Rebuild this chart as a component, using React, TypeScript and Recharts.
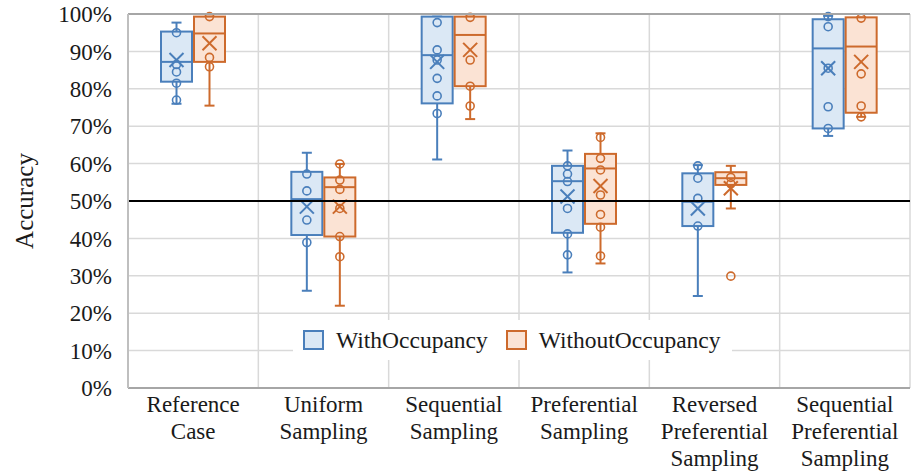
import React from 'react';
import { BarChart, Bar, XAxis, YAxis, CartesianGrid, ReferenceLine, Legend } from 'recharts';

const categories = [
  'Reference\nCase',
  'Uniform\nSampling',
  'Sequential\nSampling',
  'Preferential\nSampling',
  'Reversed\nPreferential\nSampling',
  'Sequential\nPreferential\nSampling',
];

const yTicks = [0, 10, 20, 30, 40, 50, 60, 70, 80, 90, 100];

// WithOccupancy
const withLow = [76, 26, 61.1, 30.9, 24.6, 67.4];
const withQ1 = [81.9, 40.9, 76.1, 41.5, 43.3, 69.4];
const withMedian = [87.2, 50.5, 89, 55.3, 49.8, 90.8];
const withQ3 = [95.3, 57.8, 99.3, 59.4, 57.4, 98.6];
const withHigh = [97.7, 62.9, 99.3, 63.5, 59.6, 99.5];
const withMean = [87.7, 48.5, 87.2, 51.2, 48.0, 85.5];
const withPoints = [
  [95, 86.5, 84.5, 81.5, 77],
  [57.2, 52.7, 44.9, 38.9],
  [97.7, 90.4, 87.7, 82.8, 78.1, 73.4],
  [59.4, 57.2, 55.2, 48, 41.2, 35.6],
  [59.4, 56.1, 50.7, 43.3],
  [99.3, 96.6, 85.5, 75.2, 69.4],
];

// WithoutOccupancy
const withoutLow = [75.5, 22, 71.9, 33.3, 48, 72.5];
const withoutQ1 = [87.2, 40.5, 80.7, 43.9, 54.3, 73.6];
const withoutMedian = [94.8, 53.7, 94.4, 58.7, 56.1, 91.3];
const withoutQ3 = [99.3, 56.3, 99.3, 62.6, 57.7, 99.1];
const withoutHigh = [99.3, 59.9, 99.3, 68.1, 59.4, 99.1];
const withoutMean = [92.2, 48.5, 90.4, 54.0, 53.4, 87.2];
const withoutPoints = [
  [99.3, 88.4, 85.9],
  [59.9, 55.6, 53.1, 48, 40.5, 35.1],
  [99.1, 87.7, 80.7, 75.4],
  [67, 61.4, 58.3, 51.6, 46.4, 43, 35.3],
  [56.3, 54.6, 29.9],
  [98.9, 84, 75.4, 72.5],
];

const seriesNames = ['WithOccupancy', 'WithoutOccupancy'];

const STYLES: Record<string, { stroke: string; fill: string }> = {
  w: { stroke: '#4a7fbb', fill: '#dbe8f5' },
  wo: { stroke: '#cd6a2c', fill: '#fbe3d4' },
};

const FONT = "'Liberation Serif', 'DejaVu Serif', serif";
const TEXT = '#1a1a1a';

const rows = categories.map((name, i) => ({
  name,
  w: {
    low: withLow[i], q1: withQ1[i], med: withMedian[i], q3: withQ3[i],
    high: withHigh[i], mean: withMean[i], pts: withPoints[i],
  },
  wo: {
    low: withoutLow[i], q1: withoutQ1[i], med: withoutMedian[i], q3: withoutQ3[i],
    high: withoutHigh[i], mean: withoutMean[i], pts: withoutPoints[i],
  },
}));

const BoxShape = (props: any) => {
  const { x, y, width, height, payload, series } = props;
  const d = payload[series];
  const st = STYLES[series];
  const top = Math.min(y, y + height);
  const bot = Math.max(y, y + height);
  const k = (bot - top) / (d.high - d.low);
  const py = (v: number) => bot - (v - d.low) * k;
  const cx = x + width / 2;
  const cap = 5;
  const m = 7;
  const yMean = py(d.mean);
  return (
    <g>
      <line x1={cx} x2={cx} y1={py(d.low)} y2={py(d.q1)} stroke={st.stroke} strokeWidth={2} />
      <line x1={cx} x2={cx} y1={py(d.q3)} y2={py(d.high)} stroke={st.stroke} strokeWidth={2} />
      <line x1={cx - cap} x2={cx + cap} y1={py(d.low)} y2={py(d.low)} stroke={st.stroke} strokeWidth={2} />
      <line x1={cx - cap} x2={cx + cap} y1={py(d.high)} y2={py(d.high)} stroke={st.stroke} strokeWidth={2} />
      <rect x={x} y={py(d.q3)} width={width} height={py(d.q1) - py(d.q3)} fill={st.fill} stroke={st.stroke} strokeWidth={2} />
      <line x1={x} x2={x + width} y1={py(d.med)} y2={py(d.med)} stroke={st.stroke} strokeWidth={2} />
      <line x1={cx - m} x2={cx + m} y1={yMean - m} y2={yMean + m} stroke={st.stroke} strokeWidth={2} />
      <line x1={cx - m} x2={cx + m} y1={yMean + m} y2={yMean - m} stroke={st.stroke} strokeWidth={2} />
      {d.pts.map((v: number, i: number) => (
        <circle key={i} cx={cx} cy={py(v)} r={4} fill="none" stroke={st.stroke} strokeWidth={1.6} />
      ))}
    </g>
  );
};

const CatTick = (props: any) => {
  const { x, y, payload } = props;
  const lines = String(payload.value).split('\n');
  return (
    <text x={x} y={y} textAnchor="middle" fill={TEXT} style={{ fontSize: 23, fontFamily: FONT }}>
      {lines.map((l, i) => (
        <tspan key={i} x={x} dy={i === 0 ? 24 : 27}>{l}</tspan>
      ))}
    </text>
  );
};

const LegendBox = () => (
  <div
    style={{
      background: '#ffffff', width: 439, height: 40, display: 'flex', alignItems: 'center',
      fontFamily: FONT, fontSize: 23.5, color: TEXT, boxSizing: 'border-box',
    }}
  >
    {seriesNames.map((n, i) => {
      const st = STYLES[i === 0 ? 'w' : 'wo'];
      return (
        <div key={n} style={{ display: 'flex', alignItems: 'center', marginLeft: i === 0 ? 10 : 18 }}>
          <div
            style={{
              width: 21, height: 20, boxSizing: 'border-box', border: `2px solid ${st.stroke}`,
              background: st.fill, marginRight: 12,
            }}
          />
          <span style={{ whiteSpace: 'nowrap' }}>{n}</span>
        </div>
      );
    })}
  </div>
);

export default function App() {
  return (
    <div style={{ position: 'absolute', left: 0, top: 0, fontFamily: FONT }}>
      <BarChart
        width={915}
        height={475}
        data={rows}
        margin={{ top: 14, right: 5, left: 0, bottom: 0 }}
        barGap={2}
        style={{ fontFamily: FONT }}
      >
        <CartesianGrid
          stroke="#d9d9d9"
          strokeWidth={1.5}
          verticalCoordinatesGenerator={({ offset }: any) =>
            Array.from({ length: categories.length + 1 }, (_, i) => offset.left + (i * offset.width) / categories.length)
          }
        />
        <XAxis
          dataKey="name"
          height={87}
          interval={0}
          tickLine={false}
          tickSize={0}
          tickMargin={0}
          axisLine={{ stroke: '#a6a6a6', strokeWidth: 2 }}
          tick={<CatTick />}
        />
        <YAxis
          width={128}
          domain={[0, 100]}
          ticks={yTicks}
          tickFormatter={(v: number) => `${v}%`}
          tickLine={false}
          tickSize={0}
          tickMargin={16}
          axisLine={{ stroke: '#bfbfbf', strokeWidth: 2 }}
          tick={{ fontSize: 23, fill: TEXT, style: { fontFamily: FONT } }}
          label={{
            content: ({ viewBox }: any) => {
              const cx = viewBox.x + 24;
              const cy = viewBox.y + viewBox.height / 2;
              return (
                <text
                  x={cx}
                  y={cy}
                  transform={`rotate(-90 ${cx} ${cy})`}
                  textAnchor="middle"
                  dominantBaseline="central"
                  fill={TEXT}
                  style={{ fontSize: 25, fontFamily: FONT }}
                >
                  Accuracy
                </text>
              );
            },
          }}
        />
        <ReferenceLine y={100} stroke="#a6a6a6" strokeWidth={2} />
        <Bar
          dataKey={(r: any) => [r.w.low, r.w.high]}
          name={seriesNames[0]}
          barSize={31}
          isAnimationActive={false}
          shape={(p: any) => <BoxShape {...p} series="w" />}
        />
        <Bar
          dataKey={(r: any) => [r.wo.low, r.wo.high]}
          name={seriesNames[1]}
          barSize={31}
          isAnimationActive={false}
          shape={(p: any) => <BoxShape {...p} series="wo" />}
        />
        <ReferenceLine y={50} stroke="#000000" strokeWidth={2} />
        <Legend
          layout="vertical"
          align="center"
          verticalAlign="middle"
          width={439}
          height={40}
          wrapperStyle={{ left: 293, top: 320, width: 439, height: 40 }}
          content={() => <LegendBox />}
        />
      </BarChart>
    </div>
  );
}
